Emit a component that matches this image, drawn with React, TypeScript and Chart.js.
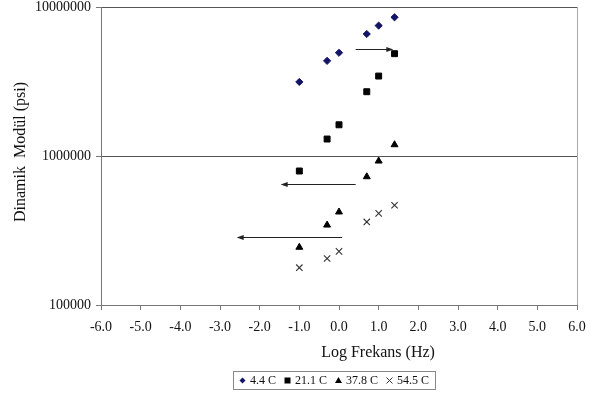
import { useEffect, useRef } from 'react';
import { Chart, registerables } from 'chart.js';

Chart.register(...registerables);

// Log of loading frequency (Hz)
const logFreq = [-1.0, -0.3, 0.0, 0.7, 1.0, 1.4];

// Dynamic modulus (psi) at each test temperature
const modulus44 = [3140000, 4350000, 4930000, 6590000, 7500000, 8530000];
const modulus211 = [793000, 1300000, 1620000, 2700000, 3440000, 4860000];
const modulus378 = [244000, 344000, 421000, 726000, 925000, 1190000];
const modulus545 = [178000, 205000, 229000, 361000, 412000, 467000];

const seriesLabels = ['4.4 C', '21.1 C', '37.8 C', '54.5 C'];
const seriesColors = ['#141466', '#000000', '#000000', '#333333'];
const seriesShapes = ['diamond', 'square', 'triangle', 'cross'];

const xTickValues = [-6, -5, -4, -3, -2, -1, 0, 1, 2, 3, 4, 5, 6];
const yTickValues = [100000, 1000000, 10000000];

const xTitle = 'Log Frekans (Hz)';
const yTitle = 'Dinamik  Modül (psi)';

// Horizontal shift arrows (start x, end x, modulus level)
const arrowFromX = [0.42, 0.42, 0.08];
const arrowToX = [1.37, -1.47, -2.58];
const arrowY = [5220000, 649000, 287000];

const SERIF = '"Liberation Serif", "Times New Roman", serif';

function drawShape(ctx: CanvasRenderingContext2D, shape: string, x: number, y: number, color: string) {
  ctx.fillStyle = color;
  ctx.strokeStyle = color;
  ctx.lineWidth = 1;
  ctx.beginPath();
  if (shape === 'diamond') {
    ctx.moveTo(x, y - 3);
    ctx.lineTo(x + 3, y);
    ctx.lineTo(x, y + 3);
    ctx.lineTo(x - 3, y);
    ctx.closePath();
    ctx.fill();
  } else if (shape === 'square') {
    ctx.rect(x - 3, y - 3, 6, 6);
    ctx.fill();
  } else if (shape === 'triangle') {
    ctx.moveTo(x, y - 3.5);
    ctx.lineTo(x + 3.5, y + 2.5);
    ctx.lineTo(x - 3.5, y + 2.5);
    ctx.closePath();
    ctx.fill();
  } else {
    ctx.moveTo(x - 3, y - 3);
    ctx.lineTo(x + 3, y + 3);
    ctx.moveTo(x + 3, y - 3);
    ctx.lineTo(x - 3, y + 3);
    ctx.stroke();
  }
}

const shiftArrows = {
  id: 'shiftArrows',
  afterDatasetsDraw(chart: any) {
    const { ctx, scales } = chart;
    const xs = scales.x;
    const ys = scales.y;
    ctx.save();
    ctx.strokeStyle = '#222';
    ctx.fillStyle = '#222';
    ctx.lineWidth = 1;
    arrowFromX.forEach((fx, i) => {
      const x0 = xs.getPixelForValue(fx);
      const x1 = xs.getPixelForValue(arrowToX[i]);
      const py = Math.round(ys.getPixelForValue(arrowY[i])) + 0.5;
      const dir = Math.sign(x1 - x0);
      ctx.beginPath();
      ctx.moveTo(x0, py);
      ctx.lineTo(x1 - dir * 4, py);
      ctx.stroke();
      ctx.beginPath();
      ctx.moveTo(x1, py);
      ctx.lineTo(x1 - dir * 7, py - 2.5);
      ctx.lineTo(x1 - dir * 7, py + 2.5);
      ctx.closePath();
      ctx.fill();
    });
    ctx.restore();
  },
};

const plotFrame = {
  id: 'plotFrame',
  beforeDatasetsDraw(chart: any) {
    const { ctx, chartArea } = chart;
    ctx.save();
    ctx.strokeStyle = '#a8a8a8';
    ctx.lineWidth = 1;
    ctx.beginPath();
    ctx.moveTo(Math.round(chartArea.right) + 0.5, chartArea.top);
    ctx.lineTo(Math.round(chartArea.right) + 0.5, chartArea.bottom);
    ctx.stroke();
    ctx.restore();
  },
};

const axisCaptions = {
  id: 'axisCaptions',
  afterDraw(chart: any) {
    const { ctx } = chart;
    ctx.save();
    ctx.fillStyle = '#111';
    ctx.font = `16px ${SERIF}`;
    ctx.textAlign = 'center';
    ctx.textBaseline = 'middle';
    ctx.fillText(xTitle, 378, 353);
    ctx.translate(21, 152);
    ctx.rotate(-Math.PI / 2);
    ctx.fillText(yTitle, 0, 0);
    ctx.restore();
  },
};

const boxedLegend = {
  id: 'boxedLegend',
  afterDraw(chart: any) {
    const { ctx } = chart;
    const cx = 334;
    const top = 371;
    const height = 18;
    const midY = top + height / 2 + 0.5;
    ctx.save();
    ctx.font = `12px ${SERIF}`;
    ctx.textBaseline = 'middle';
    const symW = 7;
    const gapSym = 4;
    const gapItem = 8;
    const widths = seriesLabels.map((t) => ctx.measureText(t).width);
    const total =
      widths.reduce((a, b) => a + b, 0) + seriesLabels.length * (symW + gapSym) + (seriesLabels.length - 1) * gapItem;
    const padX = 6;
    const left = Math.round(cx - total / 2 - padX);
    const right = Math.round(cx + total / 2 + padX);
    ctx.strokeStyle = '#888';
    ctx.lineWidth = 1;
    ctx.strokeRect(left + 0.5, top + 0.5, right - left, height);
    let x = left + padX;
    seriesLabels.forEach((label, i) => {
      drawShape(ctx, seriesShapes[i], x + symW / 2, midY, seriesColors[i]);
      x += symW + gapSym;
      ctx.fillStyle = '#111';
      ctx.fillText(label, x, midY);
      x += widths[i] + gapItem;
    });
    ctx.restore();
  },
};

export default function App() {
  const canvasRef = useRef<HTMLCanvasElement | null>(null);

  useEffect(() => {
    const canvas = canvasRef.current;
    if (!canvas) return;
    const makePoints = (vals: number[]) => logFreq.map((x, i) => ({ x, y: vals[i] }));
    const chart = new Chart(canvas, {
      type: 'scatter',
      data: {
        datasets: [
          {
            label: seriesLabels[0],
            data: makePoints(modulus44),
            pointStyle: 'rectRot',
            pointRadius: 3.6,
            pointBackgroundColor: seriesColors[0],
            pointBorderColor: seriesColors[0],
            pointBorderWidth: 1,
          },
          {
            label: seriesLabels[1],
            data: makePoints(modulus211),
            pointStyle: 'rect',
            pointRadius: 4.2,
            pointBackgroundColor: seriesColors[1],
            pointBorderColor: seriesColors[1],
            pointBorderWidth: 1,
          },
          {
            label: seriesLabels[2],
            data: makePoints(modulus378),
            pointStyle: 'triangle',
            pointRadius: 4,
            pointBackgroundColor: seriesColors[2],
            pointBorderColor: seriesColors[2],
            pointBorderWidth: 1,
          },
          {
            label: seriesLabels[3],
            data: makePoints(modulus545),
            pointStyle: 'crossRot',
            pointRadius: 4.5,
            pointBackgroundColor: seriesColors[3],
            pointBorderColor: seriesColors[3],
            pointBorderWidth: 1.1,
          },
        ] as any,
      },
      options: {
        animation: false,
        responsive: true,
        maintainAspectRatio: false,
        layout: { padding: { top: 7, right: 18, bottom: 31, left: 0 } },
        plugins: {
          legend: { display: false },
          tooltip: { enabled: false },
        },
        scales: {
          x: {
            type: 'linear',
            min: -6,
            max: 6,
            afterBuildTicks: (scale: any) => {
              scale.ticks = xTickValues.map((value) => ({ value }));
            },
            afterFit: (scale: any) => {
              scale.height = 60;
            },
            ticks: {
              callback: (v: any) => Number(v).toFixed(1),
              color: '#111',
              font: { family: SERIF, size: 14 },
              padding: 9,
              maxRotation: 0,
            },
            grid: {
              drawOnChartArea: false,
              drawTicks: true,
              tickLength: 5,
              tickColor: '#777',
            },
            border: { display: true, color: '#777', width: 1 },
          },
          y: {
            type: 'logarithmic',
            min: 100000,
            max: 10000000,
            afterBuildTicks: (scale: any) => {
              scale.ticks = yTickValues.map((value) => ({ value }));
            },
            afterFit: (scale: any) => {
              scale.width = 101;
              scale.paddingTop = 0;
              scale.paddingBottom = 0;
            },
            ticks: {
              callback: (v: any) => String(v),
              color: '#111',
              font: { family: SERIF, size: 14 },
              padding: 5,
            },
            grid: {
              color: (c: any) => (c.tick && c.tick.value > 100000 ? '#555' : 'transparent'),
              tickColor: '#777',
              tickLength: 5,
              lineWidth: 1,
            },
            border: { display: true, color: '#777', width: 1 },
          },
        },
      },
      plugins: [plotFrame, shiftArrows, axisCaptions, boxedLegend],
    });
    return () => chart.destroy();
  }, []);

  return (
    <div style={{ position: 'fixed', left: 0, top: 0, width: 595, height: 396, background: '#fff' }}>
      <canvas ref={canvasRef} />
    </div>
  );
}
